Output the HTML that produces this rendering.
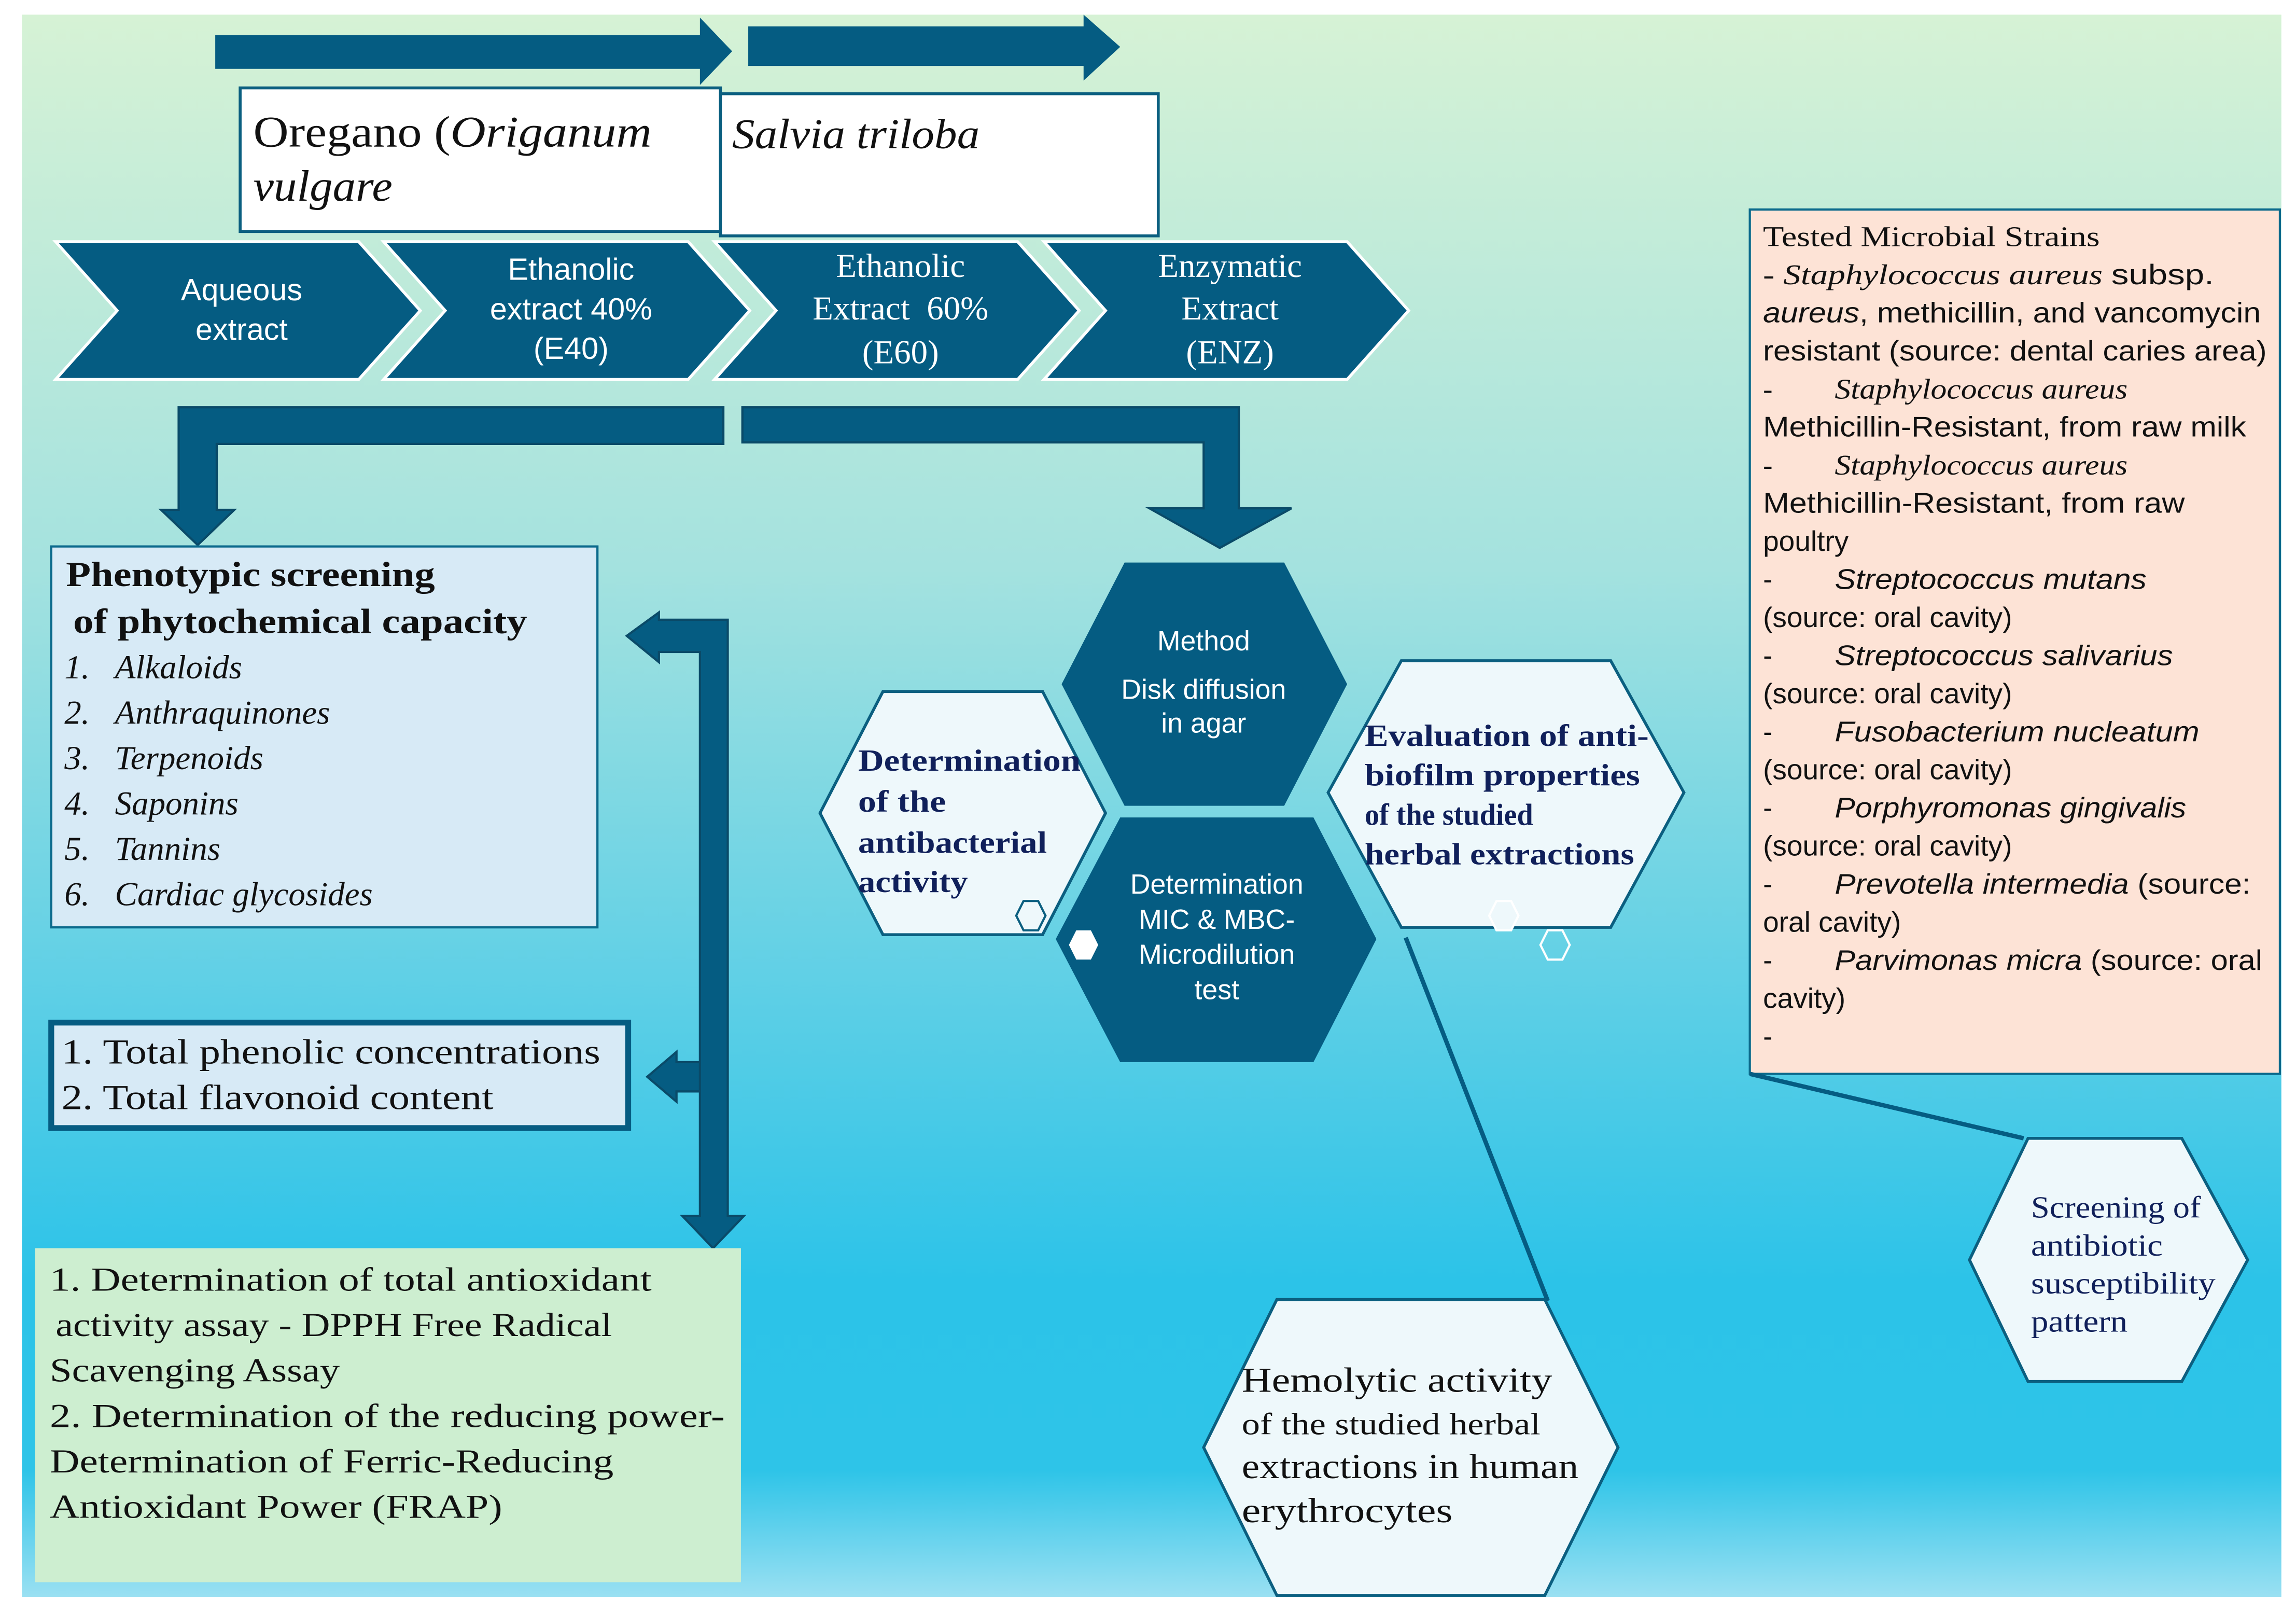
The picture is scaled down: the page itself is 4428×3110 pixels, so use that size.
<!DOCTYPE html>
<html><head><meta charset="utf-8"><style>
html,body{margin:0;padding:0;background:#fff;}
svg{display:block;}
.s{font-family:"Liberation Sans",sans-serif;}
.r{font-family:"Liberation Serif",serif;}
</style></head><body>
<svg width="4428" height="3110" viewBox="0 0 1568 1101" preserveAspectRatio="none" xmlns="http://www.w3.org/2000/svg">
<defs>
<linearGradient id="bg" x1="0" y1="0" x2="0" y2="1">
<stop offset="0" stop-color="#d6f2d5"/>
<stop offset="0.35" stop-color="#a4e2df"/>
<stop offset="0.62" stop-color="#5dcfe6"/>
<stop offset="0.8" stop-color="#2cc3e8"/>
<stop offset="0.92" stop-color="#2ec4e8"/>
<stop offset="1" stop-color="#9ae0f2"/>
</linearGradient>
</defs>
<rect x="15" y="10" width="1543" height="1080" fill="url(#bg)"/>
<g fill="#055c82">
<polygon points="147,24 478,24 478,12 500,35 478,58 478,47 147,47"/>
<polygon points="511,18 740,18 740,10 765,32 740,55 740,45 511,45"/>
</g>
<rect x="164" y="60" width="328" height="98" fill="#fff" stroke="#0b5f80" stroke-width="2"/>
<rect x="492" y="64" width="299" height="97" fill="#fff" stroke="#0b5f80" stroke-width="2"/>
<g lengthAdjust="spacingAndGlyphs">
<text class="r" x="173" y="100" font-size="30" fill="#111" textLength="272" lengthAdjust="spacingAndGlyphs">Oregano (<tspan font-style="italic">Origanum</tspan></text>
<text class="r" x="173" y="137" font-size="30" font-style="italic" fill="#111" textLength="95" lengthAdjust="spacingAndGlyphs">vulgare</text>
<text class="r" x="500" y="101" font-size="29" font-style="italic" fill="#111" textLength="169" lengthAdjust="spacingAndGlyphs">Salvia triloba</text>
</g>
<g fill="#055c82" stroke="#fff" stroke-width="2">
<polygon points="38,165 245,165 287,212 245,259 38,259 80,212"/>
<polygon points="262,165 470,165 512,212 470,259 262,259 304,212"/>
<polygon points="488,165 695,165 737,212 695,259 488,259 530,212"/>
<polygon points="713,165 920,165 962,212 920,259 713,259 755,212"/>
</g>
<g fill="#fff" text-anchor="middle">
<text class="s" x="165" y="205" font-size="21">Aqueous</text>
<text class="s" x="165" y="232" font-size="21">extract</text>
<text class="s" x="390" y="191" font-size="21">Ethanolic</text>
<text class="s" x="390" y="218" font-size="21">extract 40%</text>
<text class="s" x="390" y="245" font-size="21">(E40)</text>
<text class="r" x="615" y="189" font-size="23">Ethanolic</text>
<text class="r" x="615" y="218" font-size="23">Extract&#160;&#160;60%</text>
<text class="r" x="615" y="248" font-size="23">(E60)</text>
<text class="r" x="840" y="189" font-size="23">Enzymatic</text>
<text class="r" x="840" y="218" font-size="23">Extract</text>
<text class="r" x="840" y="248" font-size="23">(ENZ)</text>
</g>
<g fill="#055c82" stroke="#0a4a68" stroke-width="1.5">
<polygon points="494,278 494,303 148,303 148,348 160,348 135,372 110,348 122,348 122,278"/>
<polygon points="507,278 846,278 846,347 882,347 833,374 785,347 822,347 822,302 507,302"/>
<polygon points="478,445 450,445 450,452 428,434 450,418 450,423 497,423 497,830 508,830 487,852 466,830 478,830"/>
<polygon points="478,725 462,725 462,718 442,735 462,752 462,745 478,745"/>
</g>
<rect x="35" y="373" width="373" height="260" fill="#d7eaf6" stroke="#0b6a8c" stroke-width="1.5"/>
<g class="r" fill="#111">
<text x="45" y="400" font-size="24" font-weight="bold" textLength="252" lengthAdjust="spacingAndGlyphs">Phenotypic screening</text>
<text x="50" y="432" font-size="24" font-weight="bold" textLength="310" lengthAdjust="spacingAndGlyphs">of phytochemical capacity</text>
<g font-size="23" font-style="italic">
<text x="44" y="463">1.&#160;&#160;&#160;Alkaloids</text>
<text x="44" y="494">2.&#160;&#160;&#160;Anthraquinones</text>
<text x="44" y="525">3.&#160;&#160;&#160;Terpenoids</text>
<text x="44" y="556">4.&#160;&#160;&#160;Saponins</text>
<text x="44" y="587">5.&#160;&#160;&#160;Tannins</text>
<text x="44" y="618">6.&#160;&#160;&#160;Cardiac glycosides</text>
</g>
</g>
<rect x="35" y="698" width="394" height="72" fill="#d7eaf6" stroke="#055c82" stroke-width="4"/>
<text class="r" x="42" y="726" font-size="24" fill="#111" textLength="368" lengthAdjust="spacingAndGlyphs">1. Total phenolic concentrations</text>
<text class="r" x="42" y="757" font-size="24" fill="#111" textLength="295" lengthAdjust="spacingAndGlyphs">2. Total flavonoid content</text>
<rect x="24" y="852" width="482" height="228" fill="#cdeed0"/>
<g class="r" font-size="23" fill="#111">
<text x="34" y="881" textLength="411" lengthAdjust="spacingAndGlyphs">1. Determination of total antioxidant</text>
<text x="38" y="912" textLength="380" lengthAdjust="spacingAndGlyphs">activity assay - DPPH Free Radical</text>
<text x="34" y="943" textLength="198" lengthAdjust="spacingAndGlyphs">Scavenging Assay</text>
<text x="34" y="974" textLength="461" lengthAdjust="spacingAndGlyphs">2. Determination of the reducing power-</text>
<text x="34" y="1005" textLength="385" lengthAdjust="spacingAndGlyphs">Determination of Ferric-Reducing</text>
<text x="34" y="1036" textLength="309" lengthAdjust="spacingAndGlyphs">Antioxidant Power (FRAP)</text>
</g>
<polygon points="560,555 603,472 712,472 755,555 712,638 603,638" fill="#eef8fb" stroke="#0b5f80" stroke-width="2"/>
<polygon points="907,541 957,451 1100,451 1150,541 1100,633 957,633" fill="#eef8fb" stroke="#0b5f80" stroke-width="2"/>
<polygon points="725,467 768,384 877,384 920,467 877,550 768,550" fill="#055c82"/>
<polygon points="721,641 765,558 897,558 940,641 897,725 765,725" fill="#055c82"/>
<g class="s" fill="#fff" font-size="19" text-anchor="middle">
<text x="822" y="444">Method</text>
<text x="822" y="477">Disk diffusion</text>
<text x="822" y="500">in agar</text>
<text x="831" y="610">Determination</text>
<text x="831" y="634">MIC &amp; MBC-</text>
<text x="831" y="658">Microdilution</text>
<text x="831" y="682">test</text>
</g>
<g class="r" fill="#10205a" font-size="21" font-weight="bold">
<text x="586" y="526" textLength="152" lengthAdjust="spacingAndGlyphs">Determination</text>
<text x="586" y="554" textLength="60" lengthAdjust="spacingAndGlyphs">of the</text>
<text x="586" y="582" textLength="129" lengthAdjust="spacingAndGlyphs">antibacterial</text>
<text x="586" y="609" textLength="75" lengthAdjust="spacingAndGlyphs">activity</text>
<text x="932" y="509" textLength="194" lengthAdjust="spacingAndGlyphs">Evaluation of anti-</text>
<text x="932" y="536" textLength="188" lengthAdjust="spacingAndGlyphs">biofilm properties</text>
<text x="932" y="563" textLength="115" lengthAdjust="spacingAndGlyphs">of the studied</text>
<text x="932" y="590" textLength="184" lengthAdjust="spacingAndGlyphs">herbal extractions</text>
</g>
<polygon points="694,625 699,615 709,615 714,625 709,635 699,635" fill="none" stroke="#0b5f80" stroke-width="1.5"/>
<polygon points="730,645 735,635 745,635 750,645 745,655 735,655" fill="#fff"/>
<polygon points="1017,625 1022,615 1032,615 1037,625 1032,635 1022,635" fill="#eef8fb" stroke="#fff" stroke-width="1.5"/>
<polygon points="1052,645 1057,635 1067,635 1072,645 1067,655 1057,655" fill="none" stroke="#fff" stroke-width="1.5"/>
<line x1="960" y1="640" x2="1057" y2="888" stroke="#055c82" stroke-width="3"/>
<polygon points="822,988 872,887 1055,887 1105,988 1055,1089 872,1089" fill="#eef8fb" stroke="#0b5f80" stroke-width="2"/>
<g class="r" fill="#111">
<text x="848" y="950" font-size="24" textLength="212" lengthAdjust="spacingAndGlyphs">Hemolytic activity</text>
<text x="848" y="979" font-size="21" textLength="204" lengthAdjust="spacingAndGlyphs">of the studied herbal</text>
<text x="848" y="1009" font-size="24" textLength="230" lengthAdjust="spacingAndGlyphs">extractions in human</text>
<text x="848" y="1039" font-size="24" textLength="144" lengthAdjust="spacingAndGlyphs">erythrocytes</text>
</g>
<rect x="1195" y="143" width="362" height="590" fill="#fde3d6" stroke="#0b6a8c" stroke-width="1.5"/>
<line x1="1195" y1="733" x2="1382" y2="777" stroke="#055c82" stroke-width="3"/>
<g font-size="19.5" fill="#111">
<text class="r" x="1204" y="168" textLength="230" lengthAdjust="spacingAndGlyphs">Tested Microbial Strains</text>
<text class="r" x="1204" y="194" textLength="308" lengthAdjust="spacingAndGlyphs">- <tspan font-style="italic">Staphylococcus aureus</tspan> <tspan class="s">subsp.</tspan></text>
<text class="s" x="1204" y="220" textLength="340" lengthAdjust="spacingAndGlyphs"><tspan font-style="italic">aureus</tspan>, methicillin, and vancomycin</text>
<text class="s" x="1204" y="246" textLength="344" lengthAdjust="spacingAndGlyphs">resistant (source: dental caries area)</text>
<text class="r" x="1204" y="272">-</text><text class="r" x="1253" y="272" font-style="italic" textLength="200" lengthAdjust="spacingAndGlyphs">Staphylococcus aureus</text>
<text class="s" x="1204" y="298" textLength="330" lengthAdjust="spacingAndGlyphs">Methicillin-Resistant, from raw milk</text>
<text class="r" x="1204" y="324">-</text><text class="r" x="1253" y="324" font-style="italic" textLength="200" lengthAdjust="spacingAndGlyphs">Staphylococcus aureus</text>
<text class="s" x="1204" y="350" textLength="288" lengthAdjust="spacingAndGlyphs">Methicillin-Resistant, from raw</text>
<text class="s" x="1204" y="376">poultry</text>
<text class="s" x="1204" y="402">-</text><text class="s" x="1253" y="402" font-style="italic" textLength="213" lengthAdjust="spacingAndGlyphs">Streptococcus mutans</text>
<text class="s" x="1204" y="428">(source: oral cavity)</text>
<text class="s" x="1204" y="454">-</text><text class="s" x="1253" y="454" font-style="italic" textLength="231" lengthAdjust="spacingAndGlyphs">Streptococcus salivarius</text>
<text class="s" x="1204" y="480">(source: oral cavity)</text>
<text class="s" x="1204" y="506">-</text><text class="s" x="1253" y="506" font-style="italic" textLength="249" lengthAdjust="spacingAndGlyphs">Fusobacterium nucleatum</text>
<text class="s" x="1204" y="532">(source: oral cavity)</text>
<text class="s" x="1204" y="558">-</text><text class="s" x="1253" y="558" font-style="italic" textLength="240" lengthAdjust="spacingAndGlyphs">Porphyromonas gingivalis</text>
<text class="s" x="1204" y="584">(source: oral cavity)</text>
<text class="s" x="1204" y="610">-</text><text class="s" x="1253" y="610" textLength="284" lengthAdjust="spacingAndGlyphs"><tspan font-style="italic">Prevotella intermedia</tspan> (source:</text>
<text class="s" x="1204" y="636">oral cavity)</text>
<text class="s" x="1204" y="662">-</text><text class="s" x="1253" y="662" textLength="292" lengthAdjust="spacingAndGlyphs"><tspan font-style="italic">Parvimonas micra</tspan> (source: oral</text>
<text class="s" x="1204" y="688">cavity)</text>
<text class="s" x="1204" y="714">-</text>
</g>
<polygon points="1345,860 1385,777 1490,777 1535,860 1490,943 1385,943" fill="#eef8fb" stroke="#0b5f80" stroke-width="2"/>
<g class="r" fill="#10205a" font-size="21">
<text x="1387" y="831" textLength="116" lengthAdjust="spacingAndGlyphs">Screening of</text>
<text x="1387" y="857" textLength="90" lengthAdjust="spacingAndGlyphs">antibiotic</text>
<text x="1387" y="883" textLength="126" lengthAdjust="spacingAndGlyphs">susceptibility</text>
<text x="1387" y="909" textLength="66" lengthAdjust="spacingAndGlyphs">pattern</text>
</g>
</svg>
</body></html>
